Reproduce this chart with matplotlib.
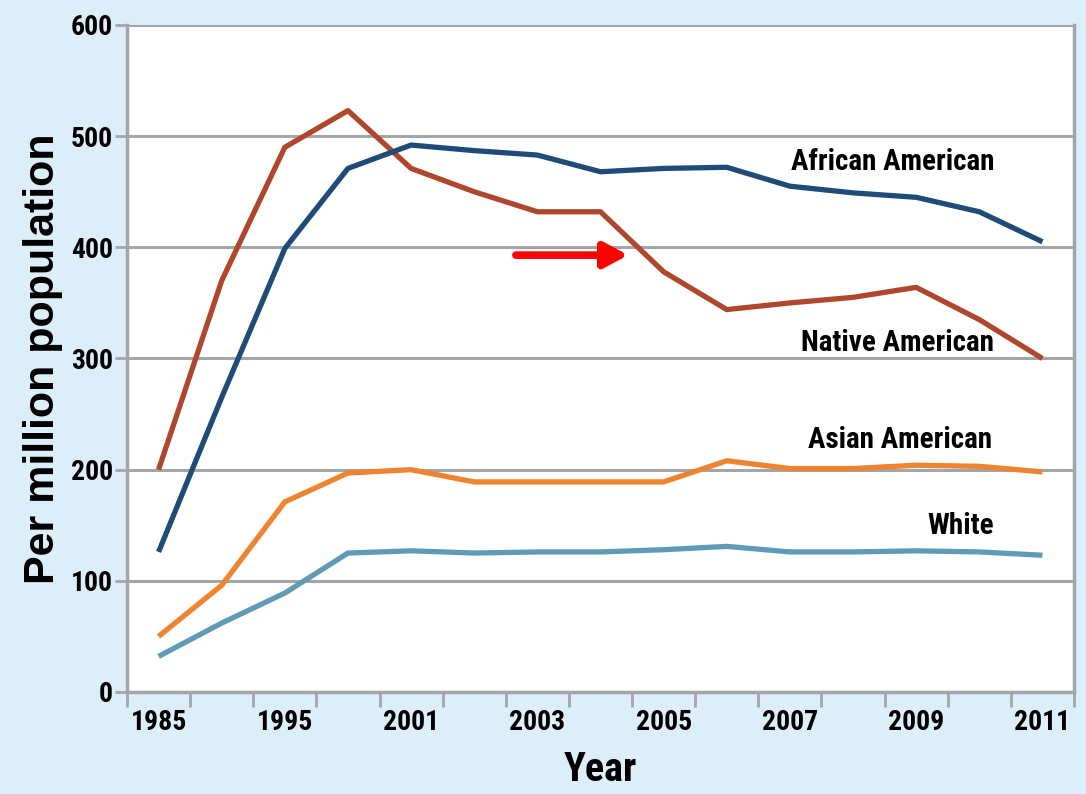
import matplotlib
matplotlib.use("Agg")
import matplotlib.pyplot as plt
from matplotlib import font_manager

# Rates per million population, by year
years = ["1985", "1990", "1995", "2000", "2001", "2002", "2003", "2004",
         "2005", "2006", "2007", "2008", "2009", "2010", "2011"]
african_american = [126, 265, 399, 471, 492, 487, 483, 468, 471, 472, 455, 449, 445, 432, 405]
native_american = [200, 370, 490, 523, 471, 450, 432, 432, 378, 344, 350, 355, 364, 335, 300]
asian_american = [50, 96, 171, 197, 200, 189, 189, 189, 189, 208, 201, 201, 204, 203, 198]
white = [32, 62, 89, 125, 127, 125, 126, 126, 128, 131, 126, 126, 127, 126, 123]
y_ticks = [0, 100, 200, 300, 400, 500, 600]

names = {f.name for f in font_manager.fontManager.ttflist}
narrow = "DejaVu Sans"
for cand in ["Liberation Sans Narrow", "Roboto Condensed", "Open Sans Condensed"]:
    if cand in names:
        narrow = cand
        break
plt.rcParams["font.family"] = [narrow, "DejaVu Sans"]
plt.rcParams["font.stretch"] = "condensed"

bg = "#DDEEFB"
grid_c = "#A3A6A9"

fig = plt.figure(figsize=(10.86, 7.94), dpi=100, facecolor=bg)
ax = fig.add_axes([127 / 1086, 1 - 692 / 794, (1074 - 127) / 1086, (692 - 25) / 794])
ax.set_facecolor("white")

x = list(range(len(years)))
series = [
    (native_american, "#B0472C"),
    (african_american, "#1E4B78"),
    (asian_american, "#EE8330"),
    (white, "#5F9BB6"),
]
for vals, col in series:
    ax.plot(x, vals, color=col, lw=3.8, solid_joinstyle="round", solid_capstyle="butt", zorder=3)

ax.set_xlim(-0.5, len(years) - 0.5)
ax.set_ylim(0, 600)

# horizontal gridlines
ax.set_yticks(y_ticks)
ax.set_yticklabels([str(v) for v in y_ticks], fontsize=20, fontweight="bold")
ax.grid(axis="y", color=grid_c, lw=2.2, zorder=1)
ax.tick_params(axis="y", length=9, width=2, color=grid_c, pad=1)

# category boundaries carry the tick marks, labels sit on every other category
ax.set_xticks([i - 0.5 for i in range(len(years) + 1)])
ax.set_xticklabels([])
ax.tick_params(axis="x", which="major", length=11, width=2, color=grid_c)
ax.set_xticks(x[::2], minor=True)
ax.set_xticklabels(years[::2], minor=True, fontsize=20, fontweight="bold")
ax.tick_params(axis="x", which="minor", length=0, pad=12)

for side in ["left", "bottom", "right"]:
    ax.spines[side].set_color(grid_c)
    ax.spines[side].set_linewidth(2.5)
ax.spines["top"].set_visible(False)

ax.set_ylabel("Per million population", fontsize=31, fontweight="bold",
              family=["Liberation Sans", "DejaVu Sans"], fontstretch="normal", labelpad=6)
ax.set_xlabel("Year", fontsize=29, fontweight="bold", labelpad=11)

lab_kw = dict(fontsize=21, fontweight="bold", ha="center", va="center", zorder=4)
ax.text(11.63, 477, "African American", **lab_kw)
ax.text(11.7, 314, "Native American", **lab_kw)
ax.text(11.75, 227, "Asian American", **lab_kw)
ax.text(12.7, 149, "White", **lab_kw)

ax.annotate("", xy=(7.44, 393), xytext=(5.66, 393),
            arrowprops=dict(arrowstyle="-|>,head_length=1.4,head_width=0.75",
                            color="#FF0000", lw=5.5, shrinkA=0, shrinkB=0),
            zorder=5)

fig.savefig("out.png", dpi=100, facecolor=bg)
